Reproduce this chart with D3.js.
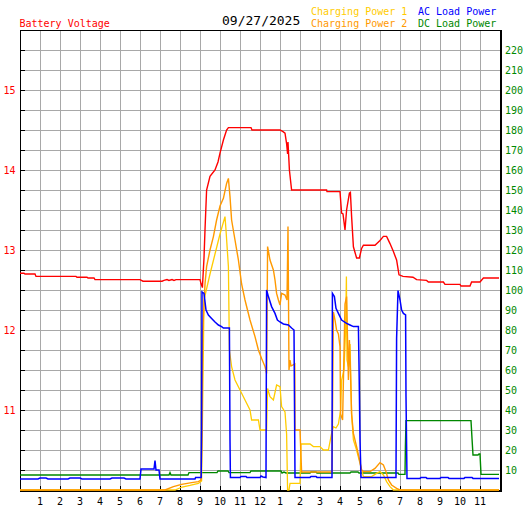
<!DOCTYPE html>
<html><head><meta charset="utf-8">
<script src="https://cdn.jsdelivr.net/npm/d3@7"></script>
<style>
html,body{margin:0;padding:0;background:#fff;}
svg{display:block;}
text{font-family:"DejaVu Sans Mono",monospace;}
</style></head>
<body>
<script>
// ---------- data (hour of day, value) ----------
const dateLabel = "09/27/2025";
const hourLabels = ["1","2","3","4","5","6","7","8","9","10","11","12","1","2","3","4","5","6","7","8","9","10","11"];
const voltTicks = [11, 12, 13, 14, 15];
const powerTicks = [10,20,30,40,50,60,70,80,90,100,110,120,130,140,150,160,170,180,190,200,210,220];

const batteryVoltage = [
 [0,12.71],[0.2,12.71],[0.25,12.70],[0.75,12.70],[0.8,12.67],[2.8,12.67],[2.85,12.66],[3.35,12.66],[3.4,12.65],[3.7,12.65],[3.75,12.63],
 [6.0,12.63],[6.15,12.61],[7.1,12.61],[7.2,12.62],[7.35,12.63],[7.45,12.62],[7.6,12.63],[7.7,12.62],[7.8,12.63],[9.0,12.63],[9.05,12.58],
 [9.12,12.53],[9.2,12.9],[9.25,13.25],[9.33,13.75],[9.5,13.92],[9.75,14.0],[9.9,14.1],[10.0,14.21],[10.17,14.375],[10.33,14.5],[10.42,14.53],
 [11.55,14.53],[11.6,14.5],[13.0,14.5],[13.15,14.48],[13.25,14.46],[13.33,14.33],[13.38,14.2],[13.4,14.35],[13.43,14.2],[13.47,14.0],[13.58,13.75],
 [15.33,13.75],[15.35,13.73],[16.0,13.73],[16.08,13.46],[16.15,13.45],[16.25,13.25],[16.33,13.5],[16.47,13.71],[16.52,13.72],[16.58,13.42],
 [16.67,13.04],[16.83,12.9],[16.97,12.9],[17.08,13.02],[17.17,13.06],[17.75,13.06],[18.0,13.12],[18.17,13.17],[18.33,13.17],[18.5,13.08],
 [18.67,12.98],[18.83,12.875],[18.95,12.69],[19.15,12.67],[19.65,12.66],[19.83,12.63],[20.33,12.62],[20.42,12.60],[21.17,12.60],[21.25,12.57],
 [22.0,12.57],[22.05,12.55],[22.5,12.55],[22.58,12.60],[23.0,12.60],[23.17,12.65],[23.95,12.65]
];

const chargingPower1 = [
 [0,0],[7.75,0],[8.1,1.5],[8.5,2.3],[8.92,3.3],[9.08,4.5],[9.13,40],[9.2,95],[9.5,108],[9.75,118],[10.0,128],[10.25,136.7],[10.3,130],
 [10.42,111.7],[10.47,70],[10.58,61.7],[10.75,55],[11.0,50],[11.25,45],[11.5,40],[11.58,35],[11.92,35],[12.0,30],[12.33,30],[12.38,50.8],
 [12.5,46.7],[12.67,45],[12.83,52.5],[13.0,51.7],[13.08,41.7],[13.25,39],[13.33,28],[13.38,0],[13.45,0],[13.5,3.3],[14.0,3.3],[14.05,23],
 [14.5,23],[14.67,21.7],[15.0,21.7],[15.17,20],[15.42,20],[15.58,28.3],[15.67,31.7],[15.8,31],[15.92,33],[16.03,40],[16.08,55],[16.2,60],
 [16.28,80],[16.32,106.7],[16.35,65],[16.42,61.7],[16.5,73],[16.58,38],[16.67,25],[16.83,20],[17.0,13.3],[17.08,10],[17.17,6.7],[17.58,6.7],
 [17.83,8.3],[18.0,9.2],[18.17,7.5],[18.33,4.2],[18.5,1.7],[18.67,0],[23.95,0]
];

const chargingPower2 = [
 [0,0],[7.25,0],[7.67,1.7],[8.08,2.8],[8.58,3.7],[8.92,4.2],[9.05,5],[9.1,30],[9.13,78],[9.25,103],[9.33,111.7],[9.5,120],[9.67,126.7],
 [9.83,135],[10.0,142],[10.17,145.8],[10.33,153.3],[10.42,155.8],[10.5,146.7],[10.58,135],[10.75,125],[10.92,115],[11.08,103],[11.25,95],
 [11.5,85],[11.75,76.7],[11.92,70],[12.08,65.8],[12.25,61.7],[12.33,58.3],[12.38,121.7],[12.5,115],[12.67,110],[12.75,105],[12.83,98.3],
 [12.92,95],[13.0,92.5],[13.08,98.3],[13.25,97.5],[13.35,95],[13.4,131.7],[13.45,60],[13.5,65],[13.55,62],[13.74,63],[13.75,30],[14.0,30],
 [14.08,9],[15.6,9],[15.67,89],[15.75,85],[15.83,80],[15.92,78],[16.0,71.7],[16.03,38],[16.13,35],[16.25,93],[16.33,96.7],[16.42,55],
 [16.47,75],[16.52,60],[16.58,38],[16.67,28.3],[16.83,21.7],[17.0,14],[17.08,10],[17.17,9.2],[17.5,9.2],[17.75,10.8],[18.0,13.7],[18.17,12.5],
 [18.3,9.2],[18.42,5],[18.58,2.5],[18.83,0.8],[19.0,0],[23.95,0]
];

const acLoadPower = [
 [0,5.5],[0.9,5.5],[1.0,6],[1.3,6],[1.4,5.5],[2.4,5.5],[2.5,6],[3.0,6],[3.1,5.5],[4.5,5.5],[4.6,6],[5.2,6],[5.3,5.5],[6.0,5.5],[6.05,10.5],
 [6.7,10.5],[6.75,14.7],[6.8,10],[6.95,10],[7.0,5.5],[8.75,5.5],[8.78,6.3],[9.06,6.3],[9.08,30],[9.1,99],[9.2,98.3],[9.3,90],[9.42,87.5],
 [9.58,85.8],[9.75,84],[9.92,82.5],[10.08,81.7],[10.17,81],[10.47,81],[10.48,62],[10.5,25],[10.52,6.2],[11.0,6.2],[11.05,6.8],[11.3,6.8],
 [11.35,6.2],[12.0,6.2],[12.05,7],[12.15,6.5],[12.3,6.2],[12.33,100],[12.42,96.7],[12.58,91.7],[12.75,88.3],[12.87,85],[13.0,84],[13.17,83],
 [13.42,82.5],[13.58,81],[13.7,80],[13.75,6.3],[14.5,6.3],[14.55,6.8],[14.8,6.8],[14.85,6.3],[15.6,6.3],[15.62,98.3],[15.72,96.7],[15.8,90.8],
 [15.92,88.3],[16.08,85],[16.33,83.3],[16.5,82.5],[16.67,81.7],[16.92,81.7],[16.95,63],[17.0,25],[17.05,6.3],[18.8,6.3],[18.83,75.8],
 [18.9,99.7],[19.0,95],[19.08,90],[19.17,88.3],[19.28,87.5],[19.3,46.7],[19.35,5.8],[20.0,5.8],[20.05,6.3],[20.3,6.3],[20.35,5.8],[21.0,5.8],
 [21.05,6.3],[21.4,6.3],[21.45,5.8],[22.2,5.8],[22.25,6.3],[22.6,6.3],[22.65,5.8],[23.95,5.8]
];

const dcLoadPower = [
 [0,7.5],[7.45,7.5],[7.5,8.7],[7.55,7.5],[8.4,7.5],[8.45,8.7],[9.85,8.7],[9.9,9.5],[10.4,9.5],[10.45,8.7],[11.5,8.7],[11.55,9.5],[13.05,9.5],
 [13.1,8.5],[13.2,9],[13.3,8.5],[14.5,8.5],[14.55,9],[14.8,9],[14.85,8.5],[16.5,8.5],[16.55,9],[16.9,9],[16.95,8.5],[18.9,8.5],[18.95,7.8],
 [19.25,7.8],[19.27,21.7],[19.3,34.7],[22.55,34.7],[22.6,25.8],[22.65,17.5],[22.9,17.5],[22.95,18],[23.0,18],[23.05,7.8],[23.95,7.8]
];

// ---------- layout ----------
const W = 527, H = 510;
const L = 20, R = 500, T = 30, B = 490;
const svg = d3.select("body").append("svg").attr("width", W).attr("height", H);

const x = d3.scaleLinear().domain([0, 24]).range([L, R]);
const yV = d3.scaleLinear().domain([10, 15.75]).range([B, T]);
const yP = d3.scaleLinear().domain([0, 230]).range([B, T]);

const colV = "#ff0000", colC1 = "#ffcc00", colC2 = "#ff9900", colAC = "#0000ff", colDC = "#008800";

// grid
const grid = svg.append("g").attr("stroke", "#a8a8a8").attr("stroke-width", 1).attr("shape-rendering", "crispEdges");
d3.range(1, 24).forEach(h => grid.append("line").attr("x1", x(h)+0.5).attr("x2", x(h)+0.5).attr("y1", T).attr("y2", B));
d3.range(10, 230, 10).forEach(p => grid.append("line").attr("x1", L).attr("x2", R).attr("y1", yP(p)+0.5).attr("y2", yP(p)+0.5));

// ticks (inner, black)
const ticks = svg.append("g").attr("stroke", "#000").attr("shape-rendering", "crispEdges");
d3.range(10.25, 15.75, 0.25).forEach(v => ticks.append("line").attr("x1", L).attr("x2", L+5).attr("y1", yV(v)+0.5).attr("y2", yV(v)+0.5));
d3.range(1, 24).forEach(h => ticks.append("line").attr("x1", x(h)+0.5).attr("x2", x(h)+0.5).attr("y1", B).attr("y2", B-4));

// border
svg.append("rect").attr("x", L+0.5).attr("y", T+0.5).attr("width", R-L).attr("height", B-T)
   .attr("fill", "none").attr("stroke", "#000").attr("stroke-width", 1);
svg.append("line").attr("x1", R+1.5).attr("x2", R+1.5).attr("y1", T).attr("y2", B+2).attr("stroke", "#000");
svg.append("line").attr("x1", L).attr("x2", R+2).attr("y1", B+1.5).attr("y2", B+1.5).attr("stroke", "#000");

// series
function drawSeries(data, yScale, color, w) {
  const line = d3.line().x(d => x(d[0])).y(d => yScale(d[1]));
  svg.append("path").datum(data).attr("d", line).attr("fill", "none")
     .attr("stroke", color).attr("stroke-width", w).attr("stroke-linejoin", "miter");
}
drawSeries(dcLoadPower, yP, colDC, 1.4);
drawSeries(chargingPower1, yP, colC1, 1.3);
drawSeries(chargingPower2, yP, colC2, 1.4);
drawSeries(acLoadPower, yP, colAC, 1.5);
drawSeries(batteryVoltage, yV, colV, 1.4);

// axis labels
svg.append("g").selectAll("text").data(voltTicks).join("text")
   .attr("x", 15.5).attr("y", d => yV(d)).attr("dy", "0.36em").attr("text-anchor", "end")
   .attr("fill", colV).attr("font-size", "10px").text(d => d);
svg.append("g").selectAll("text").data(powerTicks).join("text")
   .attr("x", 505).attr("y", d => yP(d)).attr("dy", "0.36em").attr("text-anchor", "start")
   .attr("fill", colDC).attr("font-size", "10px").text(d => d);
svg.append("g").selectAll("text").data(hourLabels).join("text")
   .attr("x", (d, i) => x(i + 1)).attr("y", 505).attr("text-anchor", "middle")
   .attr("fill", "#000").attr("font-size", "10px").text(d => d);

// header
svg.append("text").attr("x", 19.5).attr("y", 26.5).attr("fill", colV).attr("font-size", "10px").text("Battery Voltage");
svg.append("text").attr("x", 222).attr("y", 25).attr("fill", "#000").attr("font-size", "13px").text(dateLabel);
svg.append("text").attr("x", 311).attr("y", 14.5).attr("fill", colC1).attr("font-size", "10px").text("Charging Power 1");
svg.append("text").attr("x", 311).attr("y", 26.5).attr("fill", colC2).attr("font-size", "10px").text("Charging Power 2");
svg.append("text").attr("x", 418).attr("y", 14.5).attr("fill", colAC).attr("font-size", "10px").text("AC Load Power");
svg.append("text").attr("x", 418).attr("y", 26.5).attr("fill", colDC).attr("font-size", "10px").text("DC Load Power");
</script>
</body></html>
